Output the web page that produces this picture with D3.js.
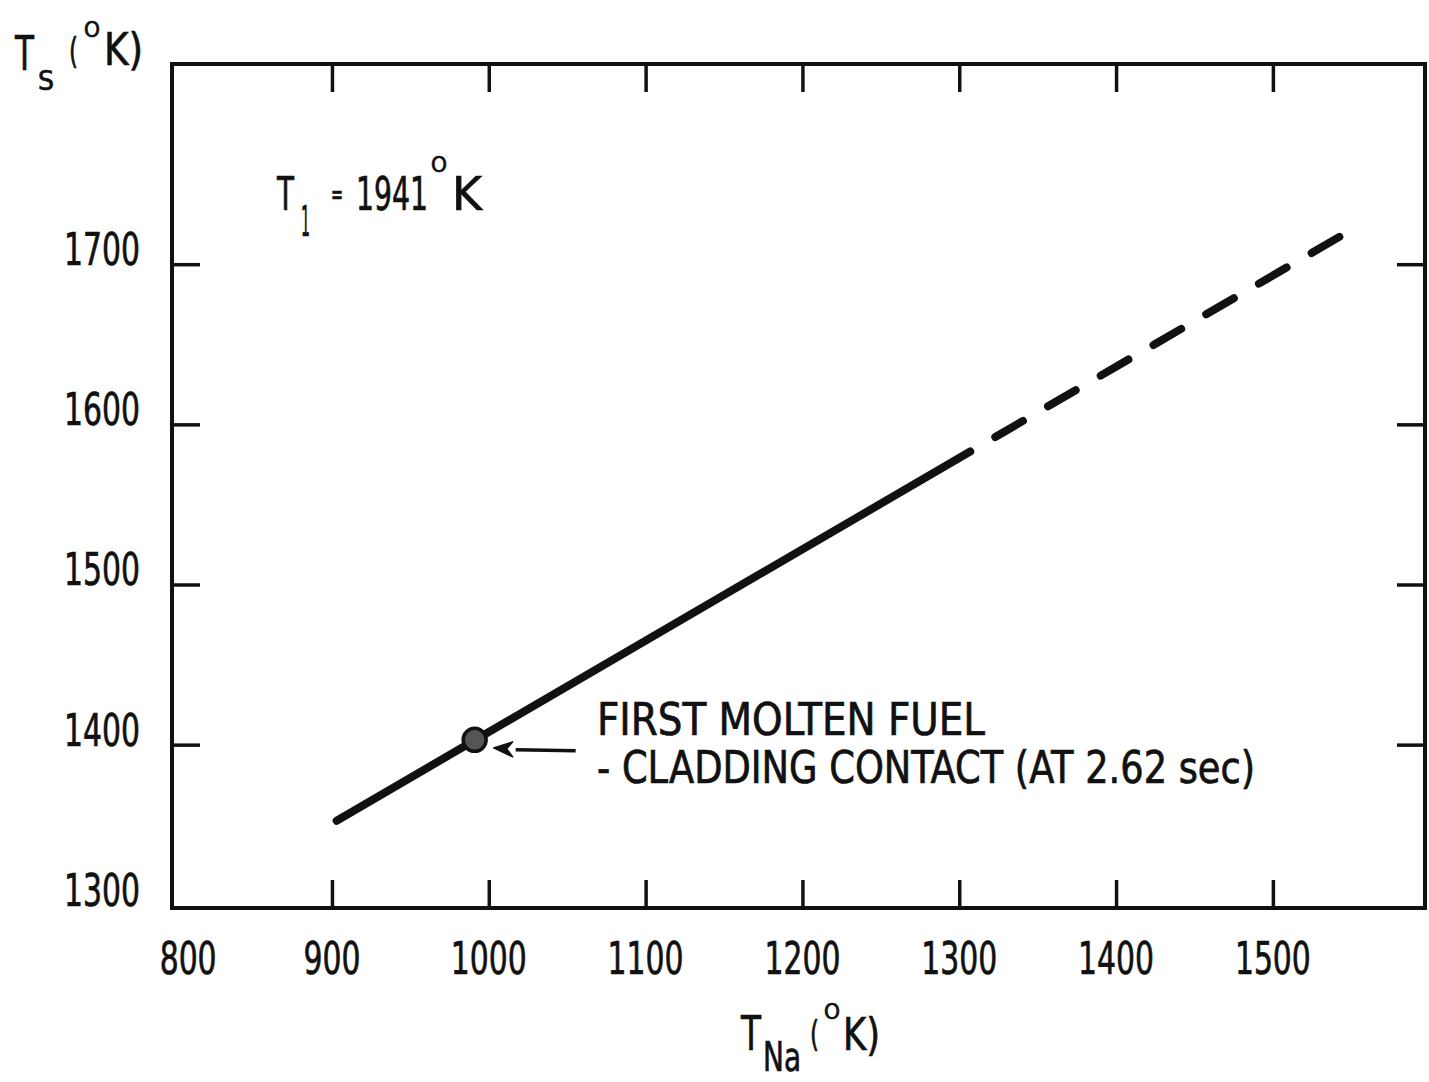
<!DOCTYPE html>
<html>
<head>
<meta charset="utf-8">
<script src="https://cdn.jsdelivr.net/npm/d3@7"></script>
<style>
  body { margin: 0; background: #fff; }
  svg text { font-family: "DejaVu Sans Condensed", "Liberation Sans Narrow", sans-serif; fill: #111; stroke: #111; stroke-width: 0.7; }
</style>
</head>
<body>
<svg id="chart" width="1429" height="1082"></svg>
<script>
// --- Data ---

const xDomain = [798, 1597];
const yDomain = [1298, 1825];

const xTickValues = [900, 1000, 1100, 1200, 1300, 1400, 1500];
const xTickLabels = [800, 900, 1000, 1100, 1200, 1300, 1400, 1500];
const yTickValues = [1400, 1500, 1600, 1700];
const yTickLabels = [1300, 1400, 1500, 1600, 1700];

// T_Na, T_s along the computed curve
const solidLine = [[903, 1352.5], [1307, 1583]];
const dashedLine = [[1307, 1583], [1544, 1718]];

// first molten fuel - cladding contact
const contactPoint = [991, 1403];

const annotationLines = ["FIRST MOLTEN FUEL", "- CLADDING CONTACT (AT 2.62 sec)"];

// --- Layout ---

const margin = { left: 172, top: 64, right: 1425, bottom: 908 };
const svg = d3.select("#chart");

const x = d3.scaleLinear().domain(xDomain).range([margin.left, margin.right]);
const y = d3.scaleLinear().domain(yDomain).range([margin.bottom, margin.top]);

const TICK = 28;
const DIGIT_W = 19;

// Frame
svg.append("rect")
  .attr("x", margin.left)
  .attr("y", margin.top)
  .attr("width", margin.right - margin.left)
  .attr("height", margin.bottom - margin.top)
  .attr("fill", "none")
  .attr("stroke", "#111")
  .attr("stroke-width", 4);

// Inward ticks on all four sides
function styleTicks(g) {
  g.select(".domain").remove();
  g.selectAll(".tick line").attr("stroke", "#111").attr("stroke-width", 3.5);
  g.selectAll(".tick text").remove();
}

svg.append("g")
  .attr("transform", `translate(0,${margin.bottom})`)
  .call(d3.axisBottom(x).tickValues(xTickValues).tickSize(-TICK).tickFormat(""))
  .call(styleTicks);

svg.append("g")
  .attr("transform", `translate(0,${margin.top})`)
  .call(d3.axisTop(x).tickValues(xTickValues).tickSize(-TICK).tickFormat(""))
  .call(styleTicks);

svg.append("g")
  .attr("transform", `translate(${margin.left},0)`)
  .call(d3.axisLeft(y).tickValues(yTickValues).tickSize(-TICK).tickFormat(""))
  .call(styleTicks);

svg.append("g")
  .attr("transform", `translate(${margin.right},0)`)
  .call(d3.axisRight(y).tickValues(yTickValues).tickSize(-TICK).tickFormat(""))
  .call(styleTicks);

// Tick labels (narrow typewriter-style digits)
svg.append("g")
  .selectAll("text")
  .data(xTickLabels)
  .join("text")
  .attr("x", (d, i) => x(d) + (i === 0 ? 13 : 0))
  .attr("y", 974)
  .attr("text-anchor", "middle")
  .attr("font-size", 45)
  .attr("textLength", (d) => String(d).length * DIGIT_W)
  .attr("lengthAdjust", "spacingAndGlyphs")
  .text((d) => d);

svg.append("g")
  .selectAll("text")
  .data(yTickLabels)
  .join("text")
  .attr("x", 140)
  .attr("y", (d) => y(d) + 1)
  .attr("text-anchor", "end")
  .attr("font-size", 45)
  .attr("textLength", (d) => String(d).length * DIGIT_W)
  .attr("lengthAdjust", "spacingAndGlyphs")
  .text((d) => d);

// --- Curve ---

const line = d3.line().x((d) => x(d[0])).y((d) => y(d[1]));

svg.append("path")
  .datum(solidLine)
  .attr("d", line)
  .attr("fill", "none")
  .attr("stroke", "#111")
  .attr("stroke-width", 8)
  .attr("stroke-linecap", "round");

svg.append("path")
  .datum(dashedLine)
  .attr("d", line)
  .attr("fill", "none")
  .attr("stroke", "#111")
  .attr("stroke-width", 8)
  .attr("stroke-linecap", "round")
  .attr("stroke-dasharray", "32 29")
  .attr("stroke-dashoffset", 32);

// Contact marker
const cx = x(contactPoint[0]);
const cy = y(contactPoint[1]);

svg.append("circle")
  .attr("cx", cx)
  .attr("cy", cy)
  .attr("r", 11.5)
  .attr("fill", "#555")
  .attr("stroke", "#111")
  .attr("stroke-width", 3.5);

// Arrow pointing at marker
const ax = cx + 19;
const ay = cy + 8;
svg.append("line")
  .attr("x1", ax + 22)
  .attr("y1", ay + 2)
  .attr("x2", ax + 82)
  .attr("y2", ay + 3)
  .attr("stroke", "#111")
  .attr("stroke-width", 3.5);

svg.append("path")
  .attr("d", `M${ax},${ay} L${ax + 19},${ay - 6} L${ax + 13},${ay + 1} L${ax + 19},${ay + 9} Z`)
  .attr("fill", "#111")
  .attr("stroke", "#111")
  .attr("stroke-width", 1.5)
  .attr("stroke-linejoin", "round");

// Annotation text
svg.append("text")
  .attr("x", 597)
  .attr("y", 735)
  .attr("font-size", 45)
  .attr("textLength", 388)
  .attr("lengthAdjust", "spacingAndGlyphs")
  .text(annotationLines[0]);

svg.append("text")
  .attr("x", 597)
  .attr("y", 783)
  .attr("font-size", 45)
  .attr("textLength", 658)
  .attr("lengthAdjust", "spacingAndGlyphs")
  .text(annotationLines[1]);

// --- Titles ---
// parts are [x, baseline, size, width, string]; squeezed horizontally to width

function compoundLabel(parts) {
  const g = svg.append("g");
  for (const [px, py, size, len, str] of parts) {
    const t = g.append("text").attr("font-size", size).text(str);
    const w = t.node().getComputedTextLength() || len;
    t.attr("transform", `translate(${px},${py}) scale(${len / w},1)`);
  }
}

// y axis title: T_S (°K)
compoundLabel([
  [15, 70, 48, 19, "T"],
  [38, 90, 26, 16, "S"],
  [69, 63, 36, 9, "("],
  [84, 37, 22, 16, "O"],
  [104, 65, 44, 39, "K)"],
]);

// T_1 = 1941°K
compoundLabel([
  [277, 210, 46, 17, "T"],
  [301, 236, 42, 9, "1"],
  [331, 204, 28, 12, "="],
  [356, 210, 46, 72, "1941"],
  [431, 172, 22, 16, "O"],
  [452, 210, 46, 30, "K"],
]);

// x axis title: T_Na (°K)
compoundLabel([
  [741, 1050, 48, 20, "T"],
  [763, 1071, 40, 38, "Na"],
  [810, 1046, 36, 9, "("],
  [824, 1019, 22, 16, "O"],
  [843, 1050, 44, 37, "K)"],
]);
</script>
</body>
</html>
